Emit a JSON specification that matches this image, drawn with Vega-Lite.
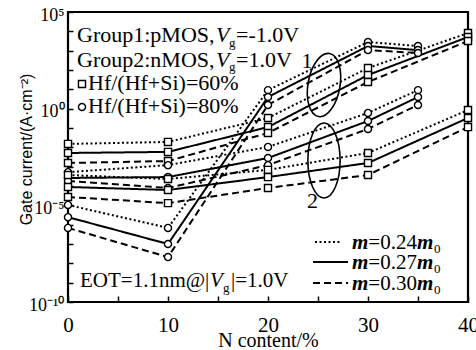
{
  "$schema": "https://vega.github.io/schema/vega-lite/v6.json",
  "width": 400,
  "height": 290,
  "autosize": {"type": "none"},
  "padding": {"left": 68, "top": 12, "right": 8, "bottom": 48},
  "background": "white",
  "config": {"view": {"stroke": "black", "strokeWidth": 2.2}, "font": "Liberation Serif"},
  "datasets": {
    "one": [{}],
    "curves": [
      {"grp": "1", "hf": "60", "m": "0.24", "n": 0, "j": 1.5e-2},
      {"grp": "1", "hf": "60", "m": "0.24", "n": 10, "j": 1.9e-2},
      {"grp": "1", "hf": "60", "m": "0.24", "n": 20, "j": 0.33},
      {"grp": "1", "hf": "60", "m": "0.24", "n": 30, "j": 126},
      {"grp": "1", "hf": "60", "m": "0.24", "n": 40, "j": 8100},
      {"grp": "1", "hf": "60", "m": "0.27", "n": 0, "j": 5.1e-3},
      {"grp": "1", "hf": "60", "m": "0.27", "n": 10, "j": 5.8e-3},
      {"grp": "1", "hf": "60", "m": "0.27", "n": 20, "j": 0.112},
      {"grp": "1", "hf": "60", "m": "0.27", "n": 30, "j": 55},
      {"grp": "1", "hf": "60", "m": "0.27", "n": 40, "j": 5100},
      {"grp": "1", "hf": "60", "m": "0.30", "n": 0, "j": 1.55e-3},
      {"grp": "1", "hf": "60", "m": "0.30", "n": 10, "j": 1.95e-3},
      {"grp": "1", "hf": "60", "m": "0.30", "n": 20, "j": 0.055},
      {"grp": "1", "hf": "60", "m": "0.30", "n": 30, "j": 24},
      {"grp": "1", "hf": "60", "m": "0.30", "n": 40, "j": 3160},
      {"grp": "1", "hf": "80", "m": "0.24", "n": 0, "j": 1.05e-5},
      {"grp": "1", "hf": "80", "m": "0.24", "n": 10, "j": 6.8e-7},
      {"grp": "1", "hf": "80", "m": "0.24", "n": 20, "j": 9.1},
      {"grp": "1", "hf": "80", "m": "0.24", "n": 30, "j": 2800},
      {"grp": "1", "hf": "80", "m": "0.24", "n": 35, "j": 1740},
      {"grp": "1", "hf": "80", "m": "0.27", "n": 0, "j": 2.45e-6},
      {"grp": "1", "hf": "80", "m": "0.27", "n": 10, "j": 1e-7},
      {"grp": "1", "hf": "80", "m": "0.27", "n": 20, "j": 4.0},
      {"grp": "1", "hf": "80", "m": "0.27", "n": 30, "j": 1740},
      {"grp": "1", "hf": "80", "m": "0.27", "n": 35, "j": 1070},
      {"grp": "1", "hf": "80", "m": "0.30", "n": 0, "j": 6.8e-7},
      {"grp": "1", "hf": "80", "m": "0.30", "n": 10, "j": 2.1e-8},
      {"grp": "1", "hf": "80", "m": "0.30", "n": 20, "j": 1.55},
      {"grp": "1", "hf": "80", "m": "0.30", "n": 30, "j": 1070},
      {"grp": "1", "hf": "80", "m": "0.30", "n": 35, "j": 760},
      {"grp": "2", "hf": "80", "m": "0.24", "n": 0, "j": 5.2e-4},
      {"grp": "2", "hf": "80", "m": "0.24", "n": 10, "j": 1.2e-3},
      {"grp": "2", "hf": "80", "m": "0.24", "n": 20, "j": 1.05e-2},
      {"grp": "2", "hf": "80", "m": "0.24", "n": 30, "j": 0.60},
      {"grp": "2", "hf": "80", "m": "0.24", "n": 35, "j": 9.1},
      {"grp": "2", "hf": "80", "m": "0.27", "n": 0, "j": 2.6e-4},
      {"grp": "2", "hf": "80", "m": "0.27", "n": 10, "j": 2.9e-4},
      {"grp": "2", "hf": "80", "m": "0.27", "n": 20, "j": 2.8e-3},
      {"grp": "2", "hf": "80", "m": "0.27", "n": 30, "j": 0.23},
      {"grp": "2", "hf": "80", "m": "0.27", "n": 35, "j": 4.0},
      {"grp": "2", "hf": "80", "m": "0.30", "n": 0, "j": 1.8e-4},
      {"grp": "2", "hf": "80", "m": "0.30", "n": 10, "j": 7.9e-5},
      {"grp": "2", "hf": "80", "m": "0.30", "n": 20, "j": 1.2e-3},
      {"grp": "2", "hf": "80", "m": "0.30", "n": 30, "j": 8.9e-2},
      {"grp": "2", "hf": "80", "m": "0.30", "n": 35, "j": 1.55},
      {"grp": "2", "hf": "60", "m": "0.24", "n": 0, "j": 3.7e-4},
      {"grp": "2", "hf": "60", "m": "0.24", "n": 10, "j": 2.3e-4},
      {"grp": "2", "hf": "60", "m": "0.24", "n": 20, "j": 6.8e-4},
      {"grp": "2", "hf": "60", "m": "0.24", "n": 30, "j": 5.1e-3},
      {"grp": "2", "hf": "60", "m": "0.24", "n": 40, "j": 0.85},
      {"grp": "2", "hf": "60", "m": "0.27", "n": 0, "j": 8.9e-5},
      {"grp": "2", "hf": "60", "m": "0.27", "n": 10, "j": 6.2e-5},
      {"grp": "2", "hf": "60", "m": "0.27", "n": 20, "j": 2.9e-4},
      {"grp": "2", "hf": "60", "m": "0.27", "n": 30, "j": 1.55e-3},
      {"grp": "2", "hf": "60", "m": "0.27", "n": 40, "j": 0.33},
      {"grp": "2", "hf": "60", "m": "0.30", "n": 0, "j": 2.7e-5},
      {"grp": "2", "hf": "60", "m": "0.30", "n": 10, "j": 1.3e-5},
      {"grp": "2", "hf": "60", "m": "0.30", "n": 20, "j": 7.9e-5},
      {"grp": "2", "hf": "60", "m": "0.30", "n": 30, "j": 3.7e-4},
      {"grp": "2", "hf": "60", "m": "0.30", "n": 40, "j": 0.112}
    ]
  },
  "layer": [
    {
      "data": {"name": "curves"},
      "mark": {"type": "line", "strokeWidth": 2, "color": "black"},
      "encoding": {
        "x": {
          "field": "n", "type": "quantitative",
          "scale": {"domain": [0, 40], "nice": false},
          "axis": {
            "values": [0, 5, 10, 15, 20, 25, 30, 35, 40],
            "labelExpr": "datum.value % 10 == 0 ? datum.label : ''",
            "title": "N content/%",
            "grid": false, "domain": false,
            "tickSize": -6, "tickColor": "black", "tickWidth": 1.5,
            "labelPadding": 18, "labelBaseline": "top", "labelFlush": false, "labelOverlap": false,
            "labelFont": "Liberation Serif", "labelFontSize": 21, "labelColor": "black",
            "titleFont": "Liberation Serif", "titleFontSize": 20, "titleFontWeight": "normal", "titleColor": "black",
            "titleBaseline": "alphabetic", "titleY": 44
          }
        },
        "y": {
          "field": "j", "type": "quantitative",
          "scale": {"type": "log", "domain": [1e-10, 1e5], "nice": false},
          "axis": {
            "values": [1e-10, 1e-9, 1e-8, 1e-7, 1e-6, 1e-5, 1e-4, 1e-3, 1e-2, 1e-1, 1, 10, 100, 1000, 1e4, 1e5],
            "labelExpr": "round(log(datum.value)/LN10) == 5 ? '10⁵' : round(log(datum.value)/LN10) == 0 ? '10⁰' : round(log(datum.value)/LN10) == -5 ? '10⁻⁵' : round(log(datum.value)/LN10) == -10 ? '10⁻¹⁰' : ''",
            "title": "Gate current/(A·cm⁻²)",
            "grid": false, "domain": false,
            "tickSize": -5, "tickColor": "black", "tickWidth": 1.5,
            "labelPadding": 9, "labelOffset": 3, "labelOverlap": false, "labelFlush": false,
            "labelFont": "Liberation Serif", "labelFontSize": 18, "labelColor": "black",
            "titleFont": "Liberation Sans", "titleFontSize": 16, "titleFontWeight": "normal", "titleColor": "black",
            "titleBaseline": "alphabetic", "titleAlign": "center", "titleX": -37, "titleY": 137
          }
        },
        "detail": [{"field": "grp"}, {"field": "hf"}],
        "strokeDash": {
          "field": "m", "type": "nominal",
          "scale": {"domain": ["0.24", "0.27", "0.30"], "range": [[2, 2.5], [1, 0], [7, 4]]},
          "legend": null
        }
      }
    },
    {
      "data": {"name": "curves"},
      "mark": {"type": "point", "filled": true, "fill": "white", "stroke": "black", "strokeWidth": 1.4, "size": 50, "opacity": 1},
      "encoding": {
        "x": {"field": "n", "type": "quantitative"},
        "y": {"field": "j", "type": "quantitative"},
        "shape": {"field": "hf", "type": "nominal", "scale": {"domain": ["60", "80"], "range": ["square", "circle"]}, "legend": null}
      }
    },
    {"data": {"name": "one"}, "mark": {"type": "text", "text": "Group1:pMOS,", "align": "left", "baseline": "alphabetic", "fontSize": 22, "font": "Liberation Serif", "color": "black"},
     "encoding": {"x": {"datum": 0.9, "type": "quantitative"}, "y": {"datum": 2806, "type": "quantitative"}}},
    {"data": {"name": "one"}, "mark": {"type": "text", "text": "V", "align": "left", "baseline": "alphabetic", "fontSize": 22, "fontStyle": "italic", "font": "Liberation Serif", "color": "black"},
     "encoding": {"x": {"datum": 14.8, "type": "quantitative"}, "y": {"datum": 2806, "type": "quantitative"}}},
    {"data": {"name": "one"}, "mark": {"type": "text", "text": "g", "align": "left", "baseline": "alphabetic", "fontSize": 13, "font": "Liberation Serif", "color": "black"},
     "encoding": {"x": {"datum": 16.1, "type": "quantitative"}, "y": {"datum": 1545, "type": "quantitative"}}},
    {"data": {"name": "one"}, "mark": {"type": "text", "text": "=-1.0V", "align": "left", "baseline": "alphabetic", "fontSize": 22, "font": "Liberation Serif", "color": "black"},
     "encoding": {"x": {"datum": 16.8, "type": "quantitative"}, "y": {"datum": 2806, "type": "quantitative"}}},
    {"data": {"name": "one"}, "mark": {"type": "text", "text": "Group2:nMOS,", "align": "left", "baseline": "alphabetic", "fontSize": 22, "font": "Liberation Serif", "color": "black"},
     "encoding": {"x": {"datum": 0.9, "type": "quantitative"}, "y": {"datum": 143, "type": "quantitative"}}},
    {"data": {"name": "one"}, "mark": {"type": "text", "text": "V", "align": "left", "baseline": "alphabetic", "fontSize": 22, "fontStyle": "italic", "font": "Liberation Serif", "color": "black"},
     "encoding": {"x": {"datum": 14.8, "type": "quantitative"}, "y": {"datum": 143, "type": "quantitative"}}},
    {"data": {"name": "one"}, "mark": {"type": "text", "text": "g", "align": "left", "baseline": "alphabetic", "fontSize": 13, "font": "Liberation Serif", "color": "black"},
     "encoding": {"x": {"datum": 16.1, "type": "quantitative"}, "y": {"datum": 85, "type": "quantitative"}}},
    {"data": {"name": "one"}, "mark": {"type": "text", "text": "=1.0V", "align": "left", "baseline": "alphabetic", "fontSize": 22, "font": "Liberation Serif", "color": "black"},
     "encoding": {"x": {"datum": 16.8, "type": "quantitative"}, "y": {"datum": 143, "type": "quantitative"}}},
    {"data": {"name": "one"}, "mark": {"type": "point", "shape": "square", "filled": true, "fill": "white", "stroke": "black", "strokeWidth": 1.4, "size": 50, "opacity": 1},
     "encoding": {"x": {"datum": 1.4, "type": "quantitative"}, "y": {"datum": 18.8, "type": "quantitative"}}},
    {"data": {"name": "one"}, "mark": {"type": "text", "text": "Hf/(Hf+Si)=60%", "align": "left", "baseline": "alphabetic", "fontSize": 22, "font": "Liberation Serif", "color": "black"},
     "encoding": {"x": {"datum": 2.0, "type": "quantitative"}, "y": {"datum": 9.23, "type": "quantitative"}}},
    {"data": {"name": "one"}, "mark": {"type": "point", "shape": "circle", "filled": true, "fill": "white", "stroke": "black", "strokeWidth": 1.4, "size": 50, "opacity": 1},
     "encoding": {"x": {"datum": 1.4, "type": "quantitative"}, "y": {"datum": 1.22, "type": "quantitative"}}},
    {"data": {"name": "one"}, "mark": {"type": "text", "text": "Hf/(Hf+Si)=80%", "align": "left", "baseline": "alphabetic", "fontSize": 22, "font": "Liberation Serif", "color": "black"},
     "encoding": {"x": {"datum": 2.0, "type": "quantitative"}, "y": {"datum": 0.596, "type": "quantitative"}}},
    {"data": {"name": "one"}, "mark": {"type": "text", "text": "EOT=1.1nm@|", "align": "left", "baseline": "alphabetic", "fontSize": 21, "font": "Liberation Serif", "color": "black"},
     "encoding": {"x": {"datum": 1.2, "type": "quantitative"}, "y": {"datum": 5.93e-10, "type": "quantitative"}}},
    {"data": {"name": "one"}, "mark": {"type": "text", "text": "V", "align": "left", "baseline": "alphabetic", "fontSize": 21, "fontStyle": "italic", "font": "Liberation Serif", "color": "black"},
     "encoding": {"x": {"datum": 14.2, "type": "quantitative"}, "y": {"datum": 5.93e-10, "type": "quantitative"}}},
    {"data": {"name": "one"}, "mark": {"type": "text", "text": "g", "align": "left", "baseline": "alphabetic", "fontSize": 13, "font": "Liberation Serif", "color": "black"},
     "encoding": {"x": {"datum": 15.5, "type": "quantitative"}, "y": {"datum": 3.27e-10, "type": "quantitative"}}},
    {"data": {"name": "one"}, "mark": {"type": "text", "text": "|=1.0V", "align": "left", "baseline": "alphabetic", "fontSize": 21, "font": "Liberation Serif", "color": "black"},
     "encoding": {"x": {"datum": 16.3, "type": "quantitative"}, "y": {"datum": 5.93e-10, "type": "quantitative"}}},
    {"data": {"name": "one"}, "mark": {"type": "rule", "color": "black", "strokeWidth": 2, "strokeDash": [2, 2.5]},
     "encoding": {"x": {"datum": 24.7, "type": "quantitative"}, "x2": {"datum": 27.2}, "y": {"datum": 1.26e-7, "type": "quantitative"}}},
    {"data": {"name": "one"}, "mark": {"type": "rule", "color": "black", "strokeWidth": 2},
     "encoding": {"x": {"datum": 24.5, "type": "quantitative"}, "x2": {"datum": 28.0}, "y": {"datum": 1.17e-8, "type": "quantitative"}}},
    {"data": {"name": "one"}, "mark": {"type": "rule", "color": "black", "strokeWidth": 2, "strokeDash": [7, 4]},
     "encoding": {"x": {"datum": 24.5, "type": "quantitative"}, "x2": {"datum": 28.0}, "y": {"datum": 9.57e-10, "type": "quantitative"}}},
    {"data": {"name": "one"}, "mark": {"type": "text", "text": "m", "align": "left", "baseline": "alphabetic", "fontSize": 21, "fontStyle": "italic", "fontWeight": "bold", "font": "Liberation Serif", "color": "black"},
     "encoding": {"x": {"datum": 28.4, "type": "quantitative"}, "y": {"datum": 5.48e-8, "type": "quantitative"}}},
    {"data": {"name": "one"}, "mark": {"type": "text", "text": "=0.24", "align": "left", "baseline": "alphabetic", "fontSize": 21, "font": "Liberation Serif", "color": "black"},
     "encoding": {"x": {"datum": 30.03, "type": "quantitative"}, "y": {"datum": 5.48e-8, "type": "quantitative"}}},
    {"data": {"name": "one"}, "mark": {"type": "text", "text": "m", "align": "left", "baseline": "alphabetic", "fontSize": 21, "fontStyle": "italic", "fontWeight": "bold", "font": "Liberation Serif", "color": "black"},
     "encoding": {"x": {"datum": 34.89, "type": "quantitative"}, "y": {"datum": 5.48e-8, "type": "quantitative"}}},
    {"data": {"name": "one"}, "mark": {"type": "text", "text": "0", "align": "left", "baseline": "alphabetic", "fontSize": 13, "font": "Liberation Serif", "color": "black"},
     "encoding": {"x": {"datum": 36.6, "type": "quantitative"}, "y": {"datum": 3.4e-8, "type": "quantitative"}}},
    {"data": {"name": "one"}, "mark": {"type": "text", "text": "m", "align": "left", "baseline": "alphabetic", "fontSize": 21, "fontStyle": "italic", "fontWeight": "bold", "font": "Liberation Serif", "color": "black"},
     "encoding": {"x": {"datum": 28.4, "type": "quantitative"}, "y": {"datum": 5.07e-9, "type": "quantitative"}}},
    {"data": {"name": "one"}, "mark": {"type": "text", "text": "=0.27", "align": "left", "baseline": "alphabetic", "fontSize": 21, "font": "Liberation Serif", "color": "black"},
     "encoding": {"x": {"datum": 30.03, "type": "quantitative"}, "y": {"datum": 5.07e-9, "type": "quantitative"}}},
    {"data": {"name": "one"}, "mark": {"type": "text", "text": "m", "align": "left", "baseline": "alphabetic", "fontSize": 21, "fontStyle": "italic", "fontWeight": "bold", "font": "Liberation Serif", "color": "black"},
     "encoding": {"x": {"datum": 34.89, "type": "quantitative"}, "y": {"datum": 5.07e-9, "type": "quantitative"}}},
    {"data": {"name": "one"}, "mark": {"type": "text", "text": "0", "align": "left", "baseline": "alphabetic", "fontSize": 13, "font": "Liberation Serif", "color": "black"},
     "encoding": {"x": {"datum": 36.6, "type": "quantitative"}, "y": {"datum": 3.15e-9, "type": "quantitative"}}},
    {"data": {"name": "one"}, "mark": {"type": "text", "text": "m", "align": "left", "baseline": "alphabetic", "fontSize": 21, "fontStyle": "italic", "fontWeight": "bold", "font": "Liberation Serif", "color": "black"},
     "encoding": {"x": {"datum": 28.4, "type": "quantitative"}, "y": {"datum": 4.15e-10, "type": "quantitative"}}},
    {"data": {"name": "one"}, "mark": {"type": "text", "text": "=0.30", "align": "left", "baseline": "alphabetic", "fontSize": 21, "font": "Liberation Serif", "color": "black"},
     "encoding": {"x": {"datum": 30.03, "type": "quantitative"}, "y": {"datum": 4.15e-10, "type": "quantitative"}}},
    {"data": {"name": "one"}, "mark": {"type": "text", "text": "m", "align": "left", "baseline": "alphabetic", "fontSize": 21, "fontStyle": "italic", "fontWeight": "bold", "font": "Liberation Serif", "color": "black"},
     "encoding": {"x": {"datum": 34.89, "type": "quantitative"}, "y": {"datum": 4.15e-10, "type": "quantitative"}}},
    {"data": {"name": "one"}, "mark": {"type": "text", "text": "0", "align": "left", "baseline": "alphabetic", "fontSize": 13, "font": "Liberation Serif", "color": "black"},
     "encoding": {"x": {"datum": 36.6, "type": "quantitative"}, "y": {"datum": 2.58e-10, "type": "quantitative"}}},
    {"data": {"name": "one"}, "mark": {"type": "point", "shape": "M0,-1C0.276,-1,0.5,-0.552,0.5,0C0.5,0.552,0.276,1,0,1C-0.276,1,-0.5,0.552,-0.5,0C-0.5,-0.552,-0.276,-1,0,-1Z", "filled": false, "stroke": "black", "strokeWidth": 1.6, "size": 4096, "angle": 10, "opacity": 1},
     "encoding": {"x": {"datum": 25.6, "type": "quantitative"}, "y": {"datum": 16.7, "type": "quantitative"}}},
    {"data": {"name": "one"}, "mark": {"type": "point", "shape": "M0,-1C0.2375,-1,0.43,-0.552,0.43,0C0.43,0.552,0.2375,1,0,1C-0.2375,1,-0.43,0.552,-0.43,0C-0.43,-0.552,-0.2375,-1,0,-1Z", "filled": false, "stroke": "black", "strokeWidth": 1.6, "size": 5625, "opacity": 1},
     "encoding": {"x": {"datum": 25.6, "type": "quantitative"}, "y": {"datum": 2.08e-3, "type": "quantitative"}}},
    {"data": {"name": "one"}, "mark": {"type": "text", "text": "1", "align": "center", "baseline": "alphabetic", "fontSize": 22, "font": "Liberation Serif", "color": "black"},
     "encoding": {"x": {"datum": 23.9, "type": "quantitative"}, "y": {"datum": 127, "type": "quantitative"}}},
    {"data": {"name": "one"}, "mark": {"type": "text", "text": "2", "align": "center", "baseline": "alphabetic", "fontSize": 22, "font": "Liberation Serif", "color": "black"},
     "encoding": {"x": {"datum": 24.45, "type": "quantitative"}, "y": {"datum": 7.24e-6, "type": "quantitative"}}}
  ]
}
